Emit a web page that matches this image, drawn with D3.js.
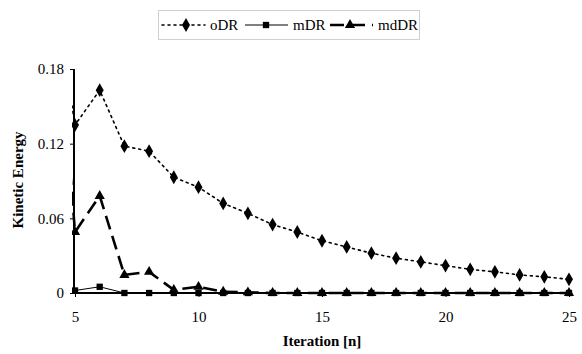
<!DOCTYPE html>
<html>
<head>
<meta charset="utf-8">
<script src="https://cdn.jsdelivr.net/npm/d3@7"></script>
<style>
  body { margin: 0; background: #fff; }
  svg text { font-family: "Liberation Serif", "Times New Roman", serif; }
</style>
</head>
<body>
<div id="chart"></div>
<script>
// data (x = 4 only shows as a clipped stub at the axis)
let iterations = [4, 5, 6, 7, 8, 9, 10, 11, 12, 13, 14, 15, 16, 17, 18, 19, 20, 21, 22, 23, 24, 25];
let oDR  = [0.26, 0.135, 0.163, 0.118, 0.114, 0.093, 0.085, 0.072, 0.064, 0.055, 0.049, 0.042,
            0.037, 0.032, 0.028, 0.025, 0.022, 0.019, 0.017, 0.0145, 0.013, 0.011];
let mDR  = [null, 0.002, 0.005, 0, 0, 0, 0, 0, 0, 0, 0, 0, 0, 0, 0, 0, 0, 0, 0, 0, 0, 0];
let mdDR = [0.30, 0.049, 0.078, 0.0145, 0.017, 0.0025, 0.005, 0.001, 0.0005, 0, 0, 0,
            0, 0, 0, 0, 0, 0, 0, 0, 0, 0];
let seriesNames = ["oDR", "mDR", "mdDR"];
let xTicks = [5, 10, 15, 20, 25];
let yTicks = [0, 0.06, 0.12, 0.18];

let width = 582, height = 354;
let serif = "Liberation Serif";

let svg = d3.select("#chart").append("svg")
    .attr("width", width)
    .attr("height", height);

let x = d3.scaleLinear().domain([5, 25]).range([75, 569]);
let y = d3.scaleLinear().domain([0, 0.18]).range([293, 69]);

// styles per series
let styles = {
    oDR:  { width: 1.6, dash: "2,4", marker: d3.symbolDiamond, size: 55 },
    mDR:  { width: 1,   dash: null,  marker: d3.symbolSquare,  size: 40 },
    mdDR: { width: 2.6, dash: "14,7", marker: d3.symbolTriangle, size: 45 }
};
let values = { oDR: oDR, mDR: mDR, mdDR: mdDR };

// clip so the x=4 point only leaves a stub next to the axis
svg.append("clipPath").attr("id", "plotclip")
   .append("rect")
   .attr("x", 72).attr("y", 60)
   .attr("width", 510).attr("height", 240);

// AXES
let yAxis = svg.append("g")
    .attr("transform", "translate(74,0)")
    .call(d3.axisLeft(y).tickValues(yTicks).tickSize(4).tickPadding(6)
            .tickFormat(d => d === 0 ? "0" : d3.format(".2f")(d)));
yAxis.attr("font-family", serif);
yAxis.select(".domain").attr("stroke-width", 2).attr("d", "M0," + y(0.18) + "V" + (y(0) + 1));
yAxis.selectAll("text").attr("font-size", 15).attr("font-family", serif);

let plot = svg.append("g").attr("clip-path", "url(#plotclip)");

seriesNames.forEach(name => {
    let st = styles[name];
    let pts = iterations.map((it, i) => ({ x: it, y: values[name][i] }))
                        .filter(d => d.y !== null);
    let line = d3.line().x(d => x(d.x)).y(d => y(d.y));
    plot.append("path")
        .datum(pts)
        .attr("fill", "none")
        .attr("stroke", "#000")
        .attr("stroke-width", st.width)
        .attr("stroke-dasharray", st.dash)
        .attr("stroke-linecap", name === "oDR" ? "round" : "butt")
        .attr("d", line);
});

let xAxis = svg.append("g")
    .attr("transform", "translate(0,293)")
    .call(d3.axisBottom(x).tickValues(xTicks).tickSize(4).tickPadding(14).tickFormat(d3.format("d")));
xAxis.attr("font-family", serif);
xAxis.select(".domain").attr("stroke-width", 2).attr("d", "M74,0H571");
xAxis.selectAll("text").attr("font-size", 15).attr("font-family", serif);

// markers on top
seriesNames.forEach(name => {
    let st = styles[name];
    let pts = iterations.map((it, i) => ({ x: it, y: values[name][i] }))
                        .filter(d => d.y !== null && d.x >= 5);
    plot.append("g").selectAll("path")
        .data(pts)
        .enter().append("path")
        .attr("transform", d => "translate(" + x(d.x) + "," + y(d.y) + ")")
        .attr("d", d3.symbol().type(st.marker).size(st.size))
        .attr("fill", "#000");
});

// axis titles
svg.append("text")
    .attr("x", 322).attr("y", 346)
    .attr("text-anchor", "middle")
    .attr("font-family", serif)
    .attr("font-size", 15).attr("font-weight", "bold")
    .text("Iteration [n]");

svg.append("text")
    .attr("transform", "translate(23,180) rotate(-90)")
    .attr("text-anchor", "middle")
    .attr("font-family", serif)
    .attr("font-size", 15).attr("font-weight", "bold")
    .text("Kinetic Energy");

// LEGEND
let legend = svg.append("g");
legend.append("rect")
    .attr("x", 158.5).attr("y", 10.5)
    .attr("width", 261).attr("height", 29)
    .attr("fill", "#fff")
    .attr("stroke", "#d0d0d0");

let legendX = [162, 245, 330];
seriesNames.forEach((name, i) => {
    let st = styles[name];
    let g = legend.append("g").attr("transform", "translate(" + legendX[i] + ",25)");
    g.append("line")
        .attr("x1", 0).attr("x2", 43).attr("y1", 0).attr("y2", 0)
        .attr("stroke", "#000")
        .attr("stroke-width", st.width)
        .attr("stroke-dasharray", st.dash)
        .attr("stroke-linecap", name === "oDR" ? "round" : "butt");
    g.append("path")
        .attr("transform", "translate(" + (name === "mdDR" ? 20 : name === "mDR" ? 21 : 24) + ",0)")
        .attr("d", d3.symbol().type(st.marker).size(st.size))
        .attr("fill", "#000");
    g.append("text")
        .attr("x", 48).attr("y", 5)
        .attr("font-family", serif)
        .attr("font-size", 15)
        .text(name);
});
</script>
</body>
</html>
